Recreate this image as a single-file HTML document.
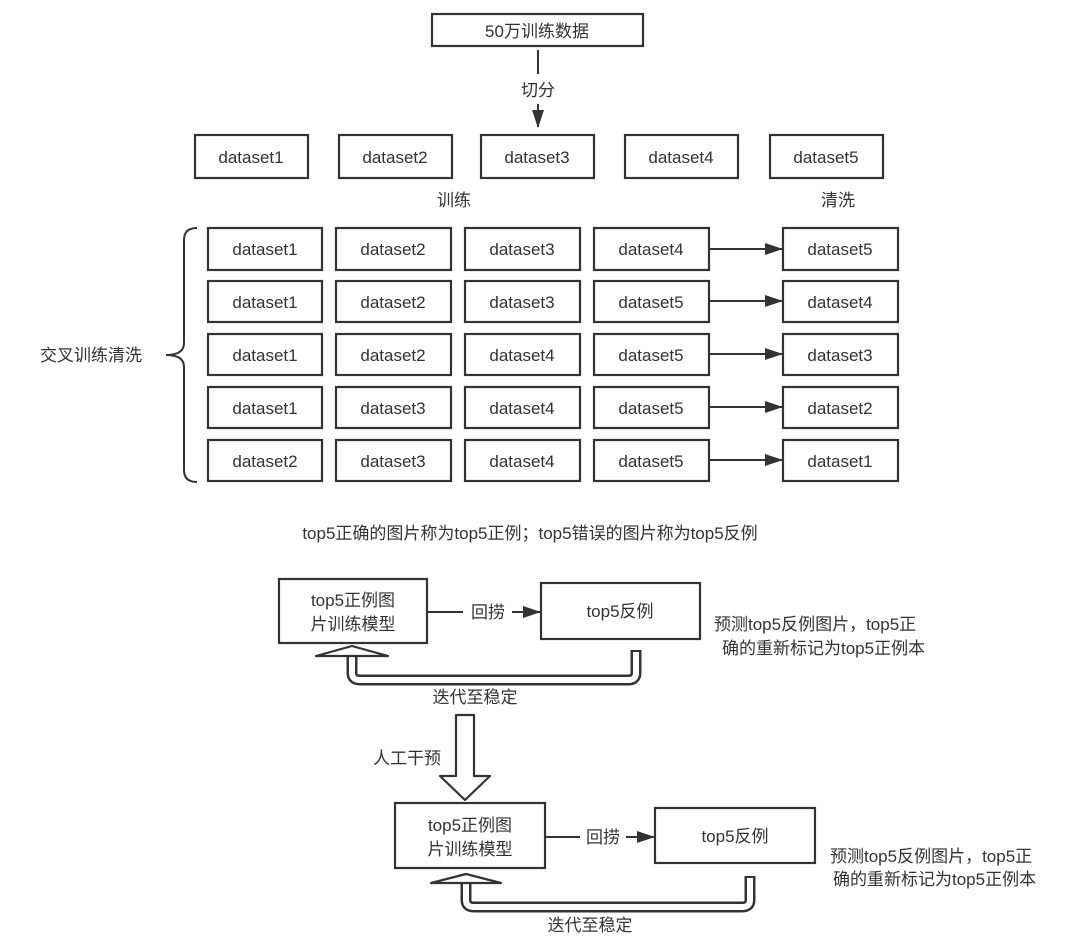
<!DOCTYPE html>
<html><head><meta charset="utf-8"><style>
html,body{margin:0;padding:0;background:#fff;}
svg{display:block;}
text{font-family:"Liberation Sans","Noto Sans CJK SC",sans-serif;fill:#333;font-size:17px;}
.b{fill:#fff;stroke:#333;stroke-width:2.2;}
.l{stroke:#333;stroke-width:2;fill:none;}
</style></head><body>
<svg width="1080" height="945" viewBox="0 0 1080 945">
<defs><marker id="ah" markerWidth="10" markerHeight="10" refX="9" refY="5" orient="auto" markerUnits="userSpaceOnUse"><path d="M0,0 L10,5 L0,10 z" fill="#333"/></marker>
<marker id="ah2" markerWidth="18" markerHeight="12" refX="17" refY="6" orient="auto" markerUnits="userSpaceOnUse"><path d="M0,0 L18,6 L0,12 z" fill="#333"/></marker></defs>

<rect class="b" x="432" y="14" width="211" height="32"/>
<text x="537" y="37" text-anchor="middle">50万训练数据</text>
<line class="l" x1="538" y1="50" x2="538" y2="74"/>
<text x="538" y="96" text-anchor="middle">切分</text>
<line class="l" x1="538" y1="104" x2="538" y2="127" marker-end="url(#ah2)"/>

<g text-anchor="middle">
<rect class="b" x="195" y="135" width="113" height="43"/><text x="251" y="163">dataset1</text>
<rect class="b" x="339" y="135" width="113" height="43"/><text x="395" y="163">dataset2</text>
<rect class="b" x="481" y="135" width="113" height="43"/><text x="537" y="163">dataset3</text>
<rect class="b" x="625" y="135" width="113" height="43"/><text x="681" y="163">dataset4</text>
<rect class="b" x="770" y="135" width="113" height="43"/><text x="826" y="163">dataset5</text>
<text x="454" y="206">训练</text>
<text x="838" y="206">清洗</text>
</g>

<g text-anchor="middle">
<!-- rows -->
<rect class="b" x="208" y="228" width="114" height="42"/><text x="265" y="255">dataset1</text>
<rect class="b" x="336" y="228" width="115" height="42"/><text x="393" y="255">dataset2</text>
<rect class="b" x="465" y="228" width="115" height="42"/><text x="522" y="255">dataset3</text>
<rect class="b" x="594" y="228" width="115" height="42"/><text x="651" y="255">dataset4</text>
<rect class="b" x="783" y="228" width="115" height="42"/><text x="840" y="255">dataset5</text>

<rect class="b" x="208" y="281" width="114" height="41"/><text x="265" y="308">dataset1</text>
<rect class="b" x="336" y="281" width="115" height="41"/><text x="393" y="308">dataset2</text>
<rect class="b" x="465" y="281" width="115" height="41"/><text x="522" y="308">dataset3</text>
<rect class="b" x="594" y="281" width="115" height="41"/><text x="651" y="308">dataset5</text>
<rect class="b" x="783" y="281" width="115" height="41"/><text x="840" y="308">dataset4</text>

<rect class="b" x="208" y="334" width="114" height="41"/><text x="265" y="361">dataset1</text>
<rect class="b" x="336" y="334" width="115" height="41"/><text x="393" y="361">dataset2</text>
<rect class="b" x="465" y="334" width="115" height="41"/><text x="522" y="361">dataset4</text>
<rect class="b" x="594" y="334" width="115" height="41"/><text x="651" y="361">dataset5</text>
<rect class="b" x="783" y="334" width="115" height="41"/><text x="840" y="361">dataset3</text>

<rect class="b" x="208" y="387" width="114" height="41"/><text x="265" y="414">dataset1</text>
<rect class="b" x="336" y="387" width="115" height="41"/><text x="393" y="414">dataset3</text>
<rect class="b" x="465" y="387" width="115" height="41"/><text x="522" y="414">dataset4</text>
<rect class="b" x="594" y="387" width="115" height="41"/><text x="651" y="414">dataset5</text>
<rect class="b" x="783" y="387" width="115" height="41"/><text x="840" y="414">dataset2</text>

<rect class="b" x="208" y="440" width="114" height="41"/><text x="265" y="467">dataset2</text>
<rect class="b" x="336" y="440" width="115" height="41"/><text x="393" y="467">dataset3</text>
<rect class="b" x="465" y="440" width="115" height="41"/><text x="522" y="467">dataset4</text>
<rect class="b" x="594" y="440" width="115" height="41"/><text x="651" y="467">dataset5</text>
<rect class="b" x="783" y="440" width="115" height="41"/><text x="840" y="467">dataset1</text>
</g>
<g>
<line class="l" x1="710" y1="249" x2="782" y2="249" marker-end="url(#ah2)"/>
<line class="l" x1="710" y1="301" x2="782" y2="301" marker-end="url(#ah2)"/>
<line class="l" x1="710" y1="354" x2="782" y2="354" marker-end="url(#ah2)"/>
<line class="l" x1="710" y1="407" x2="782" y2="407" marker-end="url(#ah2)"/>
<line class="l" x1="710" y1="460" x2="782" y2="460" marker-end="url(#ah2)"/>
</g>
<path class="l" d="M197,228 Q184,228 184,240 L184,343 Q184,355 166,355 Q184,355 184,367 L184,470 Q184,482 197,482" stroke-width="2.2"/>
<text x="40" y="361">交叉训练清洗</text>

<text x="530" y="539" text-anchor="middle">top5正确的图片称为top5正例；top5错误的图片称为top5反例</text>

<!-- block 1 -->
<rect class="b" x="279" y="579" width="148" height="64"/>
<text x="353" y="606" text-anchor="middle">top5正例图</text>
<text x="353" y="630" text-anchor="middle">片训练模型</text>
<line class="l" x1="427" y1="612" x2="463" y2="612"/>
<text x="488" y="618" text-anchor="middle">回捞</text>
<line class="l" x1="512" y1="612" x2="540" y2="612" marker-end="url(#ah2)"/>
<rect class="b" x="541" y="583" width="159" height="56"/>
<text x="620" y="617" text-anchor="middle">top5反例</text>
<text x="714" y="630">预测top5反例图片，top5正</text>
<text x="722" y="654">确的重新标记为top5正例本</text>
<path d="M352,657 L352,673 Q352,680 360,680 L628,680 Q636,680 636,673 L636,650" fill="none" stroke="#333" stroke-width="11"/>
<path d="M352,655 L352,673 Q352,680 360,680 L628,680 Q636,680 636,673 L636,652" fill="none" stroke="#fff" stroke-width="6"/>
<polygon points="316,656 352,646 388,656" fill="#fff" stroke="#333" stroke-width="2.2" stroke-linejoin="round"/>
<text x="475" y="703" text-anchor="middle">迭代至稳定</text>

<!-- down hollow arrow -->
<path d="M456,715 L474,715 L474,776 L490,776 L465,800 L440,776 L456,776 Z" fill="#fff" stroke="#333" stroke-width="2.2" stroke-linejoin="round"/>
<text x="373" y="764">人工干预</text>

<!-- block 2 -->
<rect class="b" x="395" y="803" width="150" height="65"/>
<text x="470" y="831" text-anchor="middle">top5正例图</text>
<text x="470" y="855" text-anchor="middle">片训练模型</text>
<line class="l" x1="545" y1="837" x2="580" y2="837"/>
<text x="603" y="843" text-anchor="middle">回捞</text>
<line class="l" x1="626" y1="837" x2="654" y2="837" marker-end="url(#ah2)"/>
<rect class="b" x="655" y="808" width="160" height="55"/>
<text x="735" y="842" text-anchor="middle">top5反例</text>
<text x="830" y="862">预测top5反例图片，top5正</text>
<text x="833" y="885">确的重新标记为top5正例本</text>
<path d="M466,884 L466,900 Q466,907 474,907 L742,907 Q750,907 750,900 L750,876" fill="none" stroke="#333" stroke-width="11"/>
<path d="M466,882 L466,900 Q466,907 474,907 L742,907 Q750,907 750,900 L750,878" fill="none" stroke="#fff" stroke-width="6"/>
<polygon points="431,883 466,874 501,883" fill="#fff" stroke="#333" stroke-width="2.2" stroke-linejoin="round"/>
<text x="590" y="931" text-anchor="middle">迭代至稳定</text>
</svg>
</body></html>
